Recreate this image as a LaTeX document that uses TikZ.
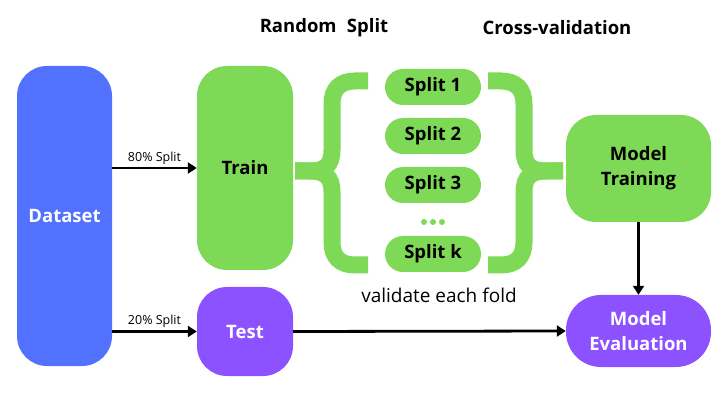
\documentclass[tikz,border=0pt]{standalone}
\usepackage{fontspec}
\setmainfont{Open Sans}
\usetikzlibrary{arrows.meta}

\definecolor{dsblue}{HTML}{5271FF}
\definecolor{trgreen}{HTML}{7ED957}
\definecolor{tspurple}{HTML}{8C52FF}

\begin{document}
\begin{tikzpicture}[x=1pt, y=-1pt,
    block/.style={rectangle, rounded corners=30pt, inner sep=0pt, align=center,
      font=\fontsize{18.5}{25}\selectfont\bfseries},
    splitbox/.style={rectangle, rounded corners=18pt, fill=trgreen, inner sep=0pt,
      minimum width=96pt, minimum height=36pt, font=\fontsize{18.5}{20}\selectfont\bfseries},
    title/.style={font=\fontsize{18.5}{20}\selectfont\bfseries},
    arr/.style={line width=2.8pt, -{Triangle[length=9pt, width=11pt]}},
    brace/.style={draw=trgreen, line width=17pt}]
  \useasboundingbox (0,0) rectangle (728,403);

  % titles
  \node[title] (rstitle) at (324,28) {Random\hspace{0.3em} Split};
  \node[title] (cvtitle) at (557,28) {Cross-validation};

  % dataset, train and test
  \node[block, fill=dsblue, text=white, minimum width=95pt, minimum height=300pt] (dataset) at (64.5,216) {Dataset};
  \node[block, fill=trgreen, minimum width=96pt, minimum height=204pt] (train) at (245,168) {Train};
  \node[block, fill=tspurple, text=white, minimum width=96pt, minimum height=89pt] (test) at (245,331.5) {Test};

  % the folds
  \foreach \i/\y in {1/87, 2/136, 3/185, k/254} {
    \node[splitbox] (split\i) at (433,\y) {Split \i};
  }
  \foreach \x in {424, 433, 442} {
    \fill[trgreen] (\x,222) circle (3pt);
  }
  \node[font=\fontsize{19}{22}\selectfont] (foldnote) at (439,295) {validate each fold};

  % left brace
  \draw[brace] (368,81) -- (355,81) .. controls (340,81) and (332,89) .. (332,104)
    -- (332,150) .. controls (332,165) and (325,171) .. (310,171) -- (295,171);
  \draw[brace] (368,265) -- (355,265) .. controls (340,265) and (332,257) .. (332,242)
    -- (332,192) .. controls (332,177) and (325,171) .. (310,171) -- (295,171);
  % right brace
  \draw[brace] (488,81) -- (501,81) .. controls (516,81) and (524,89) .. (524,104)
    -- (524,150) .. controls (524,165) and (531,171) .. (546,171) -- (563,171);
  \draw[brace] (488,265) -- (501,265) .. controls (516,265) and (524,257) .. (524,242)
    -- (524,192) .. controls (524,177) and (531,171) .. (546,171) -- (563,171);

  % model boxes
  \node[block, fill=trgreen, minimum width=145pt, minimum height=107pt] (training) at (638.5,168.5) {Model\\Training};
  \node[block, fill=tspurple, text=white, rounded corners=35pt, minimum width=145pt, minimum height=72pt] (evaluation) at (638.5,331) {Model\\Evaluation};

  % connectors
  \draw[arr] (dataset.east |- train.west) -- node[above=-1pt, font=\fontsize{12.5}{14}\selectfont] {80\% Split} (train.west);
  \draw[arr] (dataset.east |- test.west) -- node[above=-1pt, font=\fontsize{12.5}{14}\selectfont] {20\% Split} (test.west);
  \draw[arr] (test.east) -- (evaluation.west);
  \draw[arr] (training.south) -- (evaluation.north);
\end{tikzpicture}
\end{document}
